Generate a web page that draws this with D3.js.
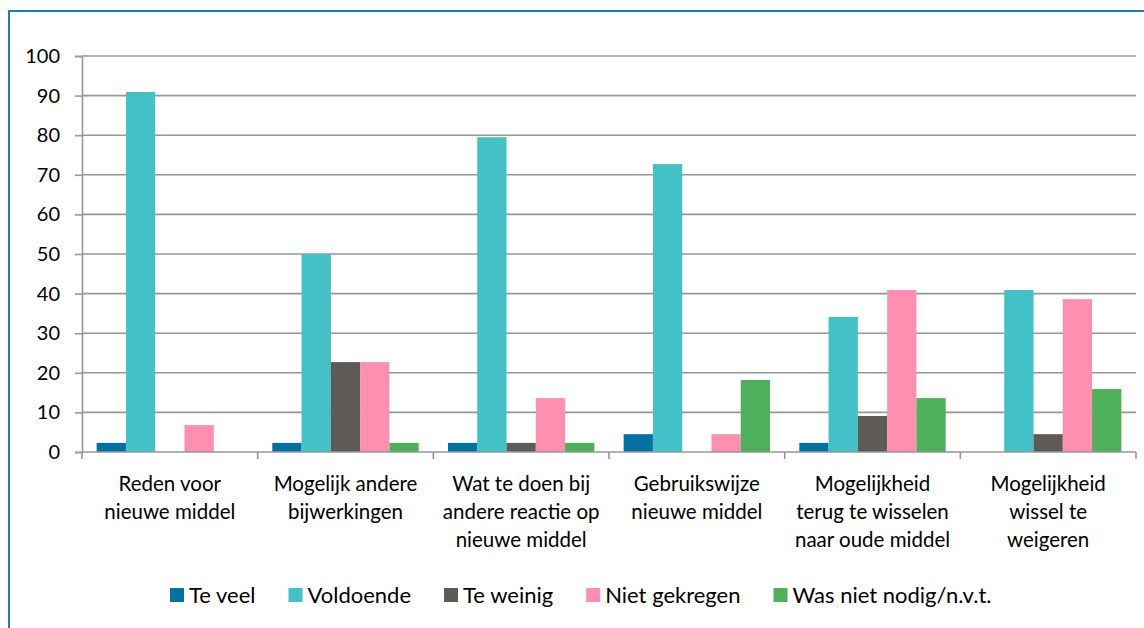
<!DOCTYPE html>
<html>
<head>
<meta charset="utf-8">
<script src="https://cdn.jsdelivr.net/npm/d3@7"></script>
<style>
  html, body { margin: 0; padding: 0; background: #fff; }
  svg { display: block; }
</style>
</head>
<body>
<svg id="chart" width="1144" height="628"></svg>
<script>
'use strict';

var categories = [
    ['Reden voor', 'nieuwe middel']
  , ['Mogelijk andere', 'bijwerkingen']
  , ['Wat te doen bij', 'andere reactie op', 'nieuwe middel']
  , ['Gebruikswijze', 'nieuwe middel']
  , ['Mogelijkheid', 'terug te wisselen', 'naar oude middel']
  , ['Mogelijkheid', 'wissel te', 'weigeren']
]
var seriesNames = ['Te veel', 'Voldoende', 'Te weinig', 'Niet gekregen', 'Was niet nodig/n.v.t.']
var teVeel       = [2.3, 2.3, 2.3, 4.5, 2.3, 0]
var voldoende    = [90.9, 50, 79.5, 72.7, 34.1, 40.9]
var teWeinig     = [0, 22.7, 2.3, 0, 9.1, 4.5]
var nietGekregen = [6.8, 22.7, 13.6, 4.5, 40.9, 38.6]
var wasNietNodig = [0, 2.3, 2.3, 18.2, 13.6, 15.9]
var yTicks = [0, 10, 20, 30, 40, 50, 60, 70, 80, 90, 100]

var colors = ['#0071a0', '#43c1c7', '#5e5a56', '#fe8fb1', '#4fb05b']
var series = [teVeel, voldoende, teWeinig, nietGekregen, wasNietNodig]

var svg = d3.select('#chart')
var plotL = 82, plotR = 1136, plotT = 56, plotB = 452
var font = 'Lato, "Open Sans", sans-serif'

// frame (only top and left edges fall inside the picture)
svg.append('path')
  .attr('d', 'M9,628V11H1144')
  .attr('fill', 'none')
  .attr('stroke', '#1a80b6')
  .attr('stroke-width', 2)

var y = d3.scaleLinear().domain([0, 100]).range([plotB, plotT])
var x = d3.scaleBand().domain(d3.range(categories.length)).range([plotL, plotR])
var xs = d3.scaleBand().domain(d3.range(series.length))
  .range([0, x.bandwidth()]).paddingInner(0).paddingOuter(0.5)

// gridlines
svg.append('g').selectAll('line').data(yTicks.slice(1)).enter().append('line')
  .attr('x1', plotL).attr('x2', plotR)
  .attr('y1', function(d) { return y(d) }).attr('y2', function(d) { return y(d) })
  .attr('stroke', '#979797').attr('stroke-width', 1.6)

// y axis
var yAxis = svg.append('g')
  .attr('transform', 'translate(' + plotL + ',0)')
  .call(d3.axisLeft(y).tickValues(yTicks).tickSize(7).tickPadding(15))
yAxis.select('.domain').attr('stroke', '#979797').attr('stroke-width', 1.6)
yAxis.selectAll('.tick line').attr('stroke', '#979797').attr('stroke-width', 1.6)
yAxis.selectAll('.tick text')
  .attr('font-family', font).attr('font-size', 20).attr('fill', '#000')

// bars
var groups = svg.append('g').selectAll('g').data(series).enter().append('g')
  .attr('fill', function(d, i) { return colors[i] })
groups.each(function(vals, si) {
  d3.select(this).selectAll('rect').data(vals).enter().append('rect')
    .attr('x', function(d, ci) { return x(ci) + xs(si) })
    .attr('width', xs.bandwidth())
    .attr('y', function(d) { return y(d) })
    .attr('height', function(d) { return y(0) - y(d) })
})

// x axis
var xAxis = svg.append('g').attr('transform', 'translate(0,' + plotB + ')')
xAxis.append('line').attr('x1', plotL).attr('x2', plotR)
  .attr('stroke', '#979797').attr('stroke-width', 1.6)
xAxis.selectAll('.tk').data(d3.range(categories.length + 1)).enter().append('line')
  .attr('x1', function(i) { return plotL + i * x.step() })
  .attr('x2', function(i) { return plotL + i * x.step() })
  .attr('y1', 0).attr('y2', 7)
  .attr('stroke', '#979797').attr('stroke-width', 1.6)

var labels = svg.append('g').selectAll('text').data(categories).enter().append('text')
  .attr('text-anchor', 'middle')
  .attr('font-family', font).attr('font-size', 20.5).attr('fill', '#000')
labels.each(function(lines, ci) {
  d3.select(this).selectAll('tspan').data(lines).enter().append('tspan')
    .attr('x', x(ci) + x.bandwidth() / 2)
    .attr('y', function(d, li) { return 491 + li * 28 })
    .text(function(d) { return d })
})

// legend
var legend = svg.append('g').attr('transform', 'translate(0,595)')
var lx = 170
seriesNames.forEach(function(name, i) {
  var item = legend.append('g').attr('transform', 'translate(' + lx + ',0)')
  item.append('rect').attr('x', 0).attr('y', -7).attr('width', 14).attr('height', 14)
    .attr('fill', colors[i])
  var t = item.append('text').attr('x', 19).attr('y', 7.5)
    .attr('font-family', font).attr('font-size', 22)
    .attr('fill', '#000').text(name)
  lx += 19 + t.node().getComputedTextLength() + 33
})
</script>
</body>
</html>
